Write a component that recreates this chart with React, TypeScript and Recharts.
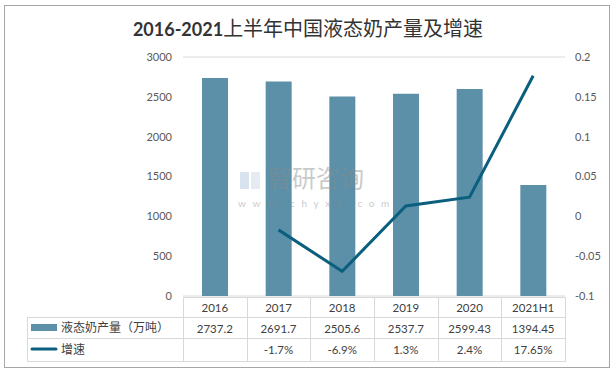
import { ComposedChart, Bar, Line, XAxis, YAxis, CartesianGrid } from 'recharts';

const categories = ['2016', '2017', '2018', '2019', '2020', '2021H1'];
const output = [2737.2, 2691.7, 2505.6, 2537.7, 2599.43, 1394.45];
const growthPct: (number | null)[] = [null, -1.7, -6.9, 1.3, 2.4, 17.65];
const leftTicks = [0, 500, 1000, 1500, 2000, 2500, 3000];
const rightTicks = [-0.1, -0.05, 0, 0.05, 0.1, 0.15, 0.2];

const data = categories.map((name, i) => ({
  name,
  output: output[i],
  growth: growthPct[i] == null ? null : (growthPct[i] as number) / 100,
}));

const W = 616;
const H = 375;
const PLOT_L = 183;
const PLOT_R = 565;
const PLOT_T = 57;
const PLOT_B = 296;
const COL = (PLOT_R - PLOT_L) / categories.length;

const BAR_COLOR = '#5b90a8';
const LINE_COLOR = '#0b5f7e';
const GRID = '#d9d9d9';
const FONT = "Lato, 'Noto Sans CJK SC', sans-serif";

const tickStyle = { fill: '#595959', fontSize: 11, fontFamily: FONT };

function DataTable() {
  const rowY = [297, 317, 338, 361];
  const textColor = '#404040';
  return (
    <svg width={W} height={H} style={{ position: 'absolute', left: 0, top: 0, pointerEvents: 'none' }}>
      {/* title */}
      <text x={308} y={36} textAnchor="middle" fill="#333" fontFamily={FONT}>
        <tspan fontWeight={700} fontSize={18}>2016-2021</tspan>
        <tspan fontSize={20} fontFamily="'Noto Sans CJK SC'">上半年中国液态奶产量及增速</tspan>
      </text>

      {/* watermark */}
      <g opacity={0.45}>
        <rect x={240} y={172} width={9} height={17} fill="#a9c3dc" />
        <rect x={251} y={172} width={9} height={17} fill="#c9d5e4" />
        <text x={268} y={187} fontSize={24} fill="#8a8a8a" fontFamily="'Noto Sans CJK SC'">智研咨询</text>
        <text x={238} y={207} fontSize={10} letterSpacing={6.6} fill="#8a8a8a" fontFamily={FONT}>www.chyxx.com</text>
      </g>

      {/* grid lines */}
      <line x1={PLOT_L} x2={PLOT_R} y1={rowY[0] + 0.5} y2={rowY[0] + 0.5} stroke={GRID} />
      {rowY.slice(1).map((y) => (
        <line key={y} x1={27} x2={PLOT_R} y1={y + 0.5} y2={y + 0.5} stroke={GRID} />
      ))}
      <line x1={27.5} x2={27.5} y1={rowY[1]} y2={rowY[3] + 1} stroke={GRID} />
      {categories.map((_, i) => (
        <line key={i} x1={Math.round(PLOT_L + i * COL) + 0.5} x2={Math.round(PLOT_L + i * COL) + 0.5} y1={rowY[0]} y2={rowY[3] + 1} stroke={GRID} />
      ))}
      <line x1={PLOT_R + 0.5} x2={PLOT_R + 0.5} y1={rowY[0]} y2={rowY[3] + 1} stroke={GRID} />

      {/* legend keys */}
      <rect x={31} y={324} width={26} height={7} fill={BAR_COLOR} />
      <text x={61} y={332} fontSize={12} fill={textColor} fontFamily="'Noto Sans CJK SC'">液态奶产量（万吨）</text>
      <line x1={32} x2={56} y1={349} y2={349} stroke={LINE_COLOR} strokeWidth={3} strokeLinecap="round" />
      <text x={61} y={354} fontSize={12} fill={textColor} fontFamily="'Noto Sans CJK SC'">增速</text>

      {/* cells */}
      {categories.map((c, i) => {
        const cx = PLOT_L + (i + 0.5) * COL;
        const g = growthPct[i];
        return (
          <g key={c} fontFamily={FONT} fontSize={11.5} fill={textColor} textAnchor="middle">
            <text x={cx} y={312}>{c}</text>
            <text x={cx} y={333}>{String(output[i])}</text>
            {g != null && <text x={cx} y={354}>{`${g}%`}</text>}
          </g>
        );
      })}
    </svg>
  );
}

export default function App() {
  return (
    <div style={{ position: 'absolute', left: 0, top: 0, width: W, height: H, background: '#fff' }}>
      <div
        style={{
          position: 'absolute',
          left: 4,
          top: 5,
          width: 606,
          height: 363,
          border: '1px solid #a6a6a6',
          boxSizing: 'border-box',
        }}
      />
      <ComposedChart
        width={W}
        height={H}
        data={data}
        margin={{ top: PLOT_T, bottom: H - PLOT_B, left: PLOT_L - 40, right: W - PLOT_R - 40 }}
      >
        <CartesianGrid vertical={false} stroke={GRID} />
        <XAxis dataKey="name" hide />
        <YAxis
          yAxisId="left"
          width={40}
          domain={[0, 3000]}
          ticks={leftTicks}
          axisLine={false}
          tickLine={false}
          tickMargin={5}
          tick={tickStyle}
        />
        <YAxis
          yAxisId="right"
          orientation="right"
          width={40}
          domain={[-0.1, 0.2]}
          ticks={rightTicks}
          axisLine={false}
          tickLine={false}
          tickMargin={4}
          tick={tickStyle}
        />
        <Bar yAxisId="left" dataKey="output" fill={BAR_COLOR} barSize={26} isAnimationActive={false} />
        <Line
          yAxisId="right"
          dataKey="growth"
          stroke={LINE_COLOR}
          strokeWidth={3}
          dot={false}
          isAnimationActive={false}
        />
      </ComposedChart>
      <DataTable />
    </div>
  );
}
